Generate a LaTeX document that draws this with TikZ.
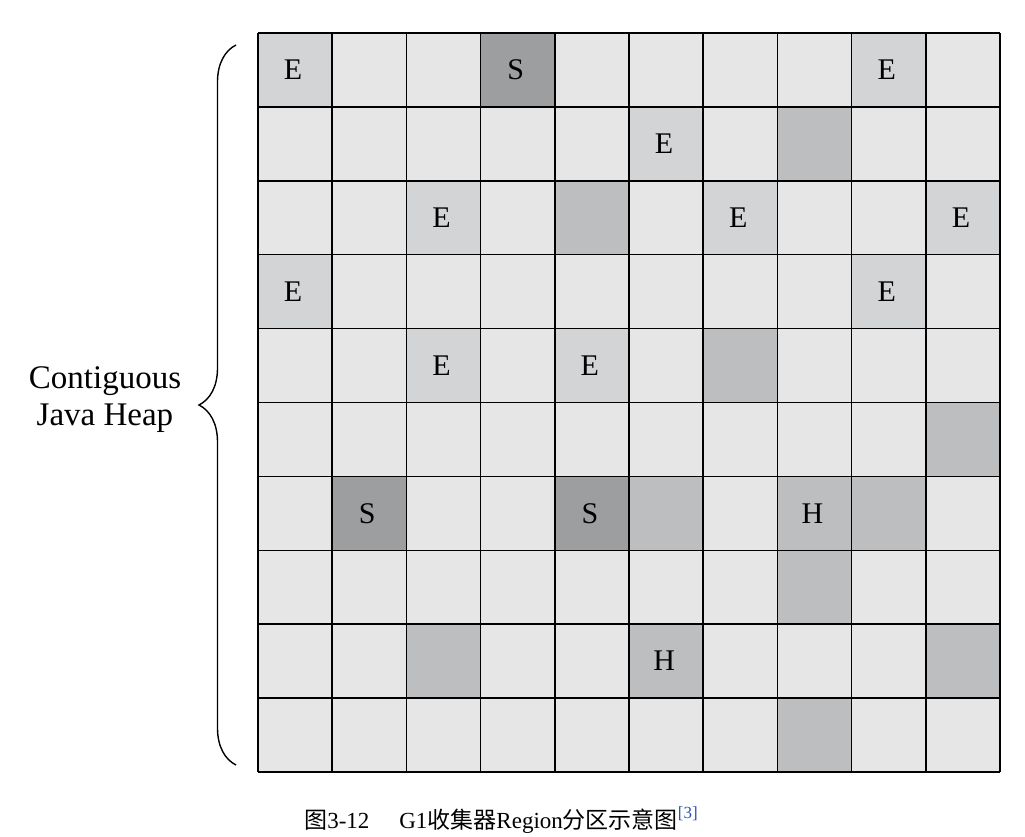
\documentclass[tikz,border=0pt]{standalone}
\usepackage{fontspec}
\setmainfont{Liberation Serif}
\newfontfamily\cjk{Noto Sans CJK SC}
\usetikzlibrary{decorations.pathreplacing}
\definecolor{cellfree}{HTML}{E6E6E6}
\definecolor{celleden}{HTML}{D3D4D5}
\definecolor{cellsurv}{HTML}{9D9E9F}
\definecolor{cellhuge}{HTML}{BCBEC0}
\definecolor{refblue}{HTML}{2F52B8}
\begin{document}
\begin{tikzpicture}[x=1pt, y=-1pt, every node/.style={font=\fontsize{30}{36}\selectfont}]
\useasboundingbox (0,0) rectangle (1025,836);
% free regions
\fill[cellfree] (258,33) rectangle (1000,772);
% coloured regions: column/row/colour
\foreach \c/\r/\col in {0/0/celleden, 3/0/cellsurv, 8/0/celleden,
    5/1/celleden, 7/1/cellhuge,
    2/2/celleden, 4/2/cellhuge, 6/2/celleden, 9/2/celleden,
    0/3/celleden, 8/3/celleden,
    2/4/celleden, 4/4/celleden, 6/4/cellhuge,
    9/5/cellhuge,
    1/6/cellsurv, 4/6/cellsurv, 5/6/cellhuge, 7/6/cellhuge, 8/6/cellhuge,
    7/7/cellhuge,
    2/8/cellhuge, 5/8/cellhuge, 9/8/cellhuge,
    7/9/cellhuge}
  \fill[\col] ({258+74.2*\c},{33+73.9*\r}) rectangle +(74.2,73.9);
% grid
\foreach \i in {0,...,10} {
  \draw[line width=1.5pt] ({258+74.2*\i},33) -- ({258+74.2*\i},772);
  \draw[line width=1.5pt] (258,{33+73.9*\i}) -- (1000,{33+73.9*\i});
}
% region letters
\foreach \c/\r/\t [count=\n] in {0/0/E, 3/0/S, 8/0/E, 5/1/E, 2/2/E, 6/2/E, 9/2/E,
    0/3/E, 8/3/E, 2/4/E, 4/4/E, 1/6/S, 4/6/S, 7/6/H, 5/8/H}
  \node (cell\n) at ({258+74.2*(\c+0.5)-2},{33+73.9*(\r+0.5)}) {\t};
% brace and heap label
\coordinate (heapbot) at (236,765);
\coordinate (heaptop) at (236,45);
\draw[line width=1.4pt, decorate, decoration={brace, amplitude=37pt}] (heapbot) -- (heaptop);
\node[align=center, font=\fontsize{33}{37}\selectfont] (heaplabel) at (105,400) {Contiguous\\Java Heap};
\node (caption) at (501,820) {\fontsize{23}{27}\selectfont{\cjk 图}3-12\hspace{1.3em}G1{\cjk 收集器}Region{\cjk 分区示意图}\raisebox{0.45em}{\fontsize{17}{19}\selectfont\color{refblue}[3]}};
\end{tikzpicture}
\end{document}
